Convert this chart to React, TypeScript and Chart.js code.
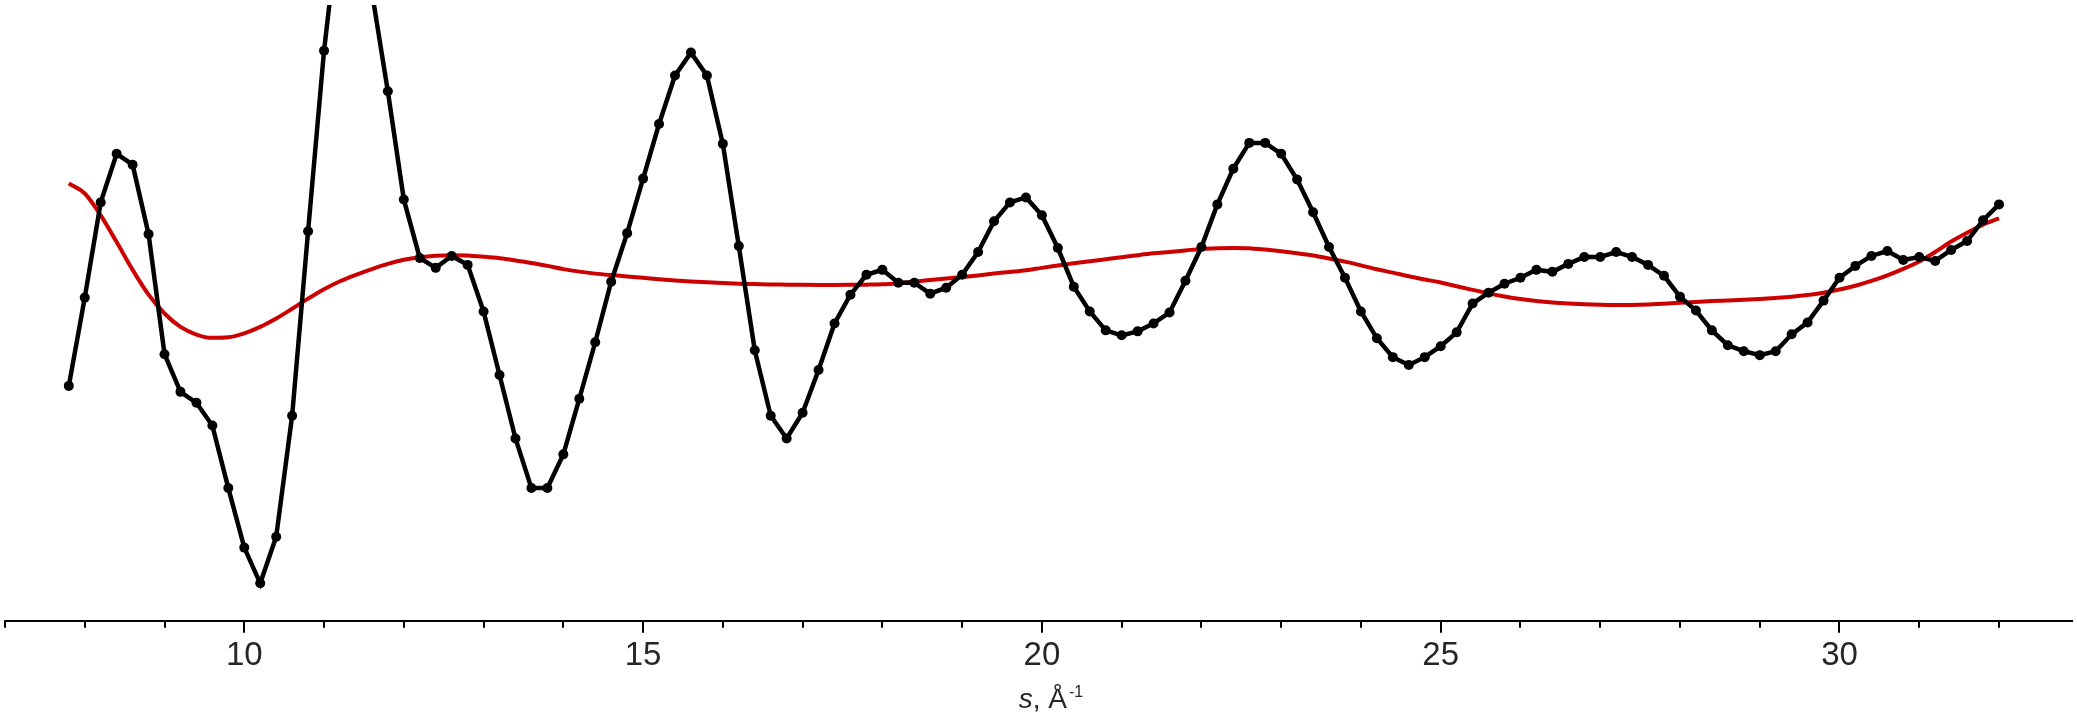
import React, { useEffect, useRef } from "react";
import { Chart, registerables } from "chart.js";

Chart.register(...registerables);

// Scattering data sampled on s = 7.8 ... 32.0 (step 0.2 Å⁻¹)
const S_FIRST = 7.8;
const S_STEP = 0.2;

// experimental curve (black, with points)
const EXPERIMENT = [
  -0.84, 0.05, 1.01, 1.5, 1.39, 0.69, -0.52, -0.9, -1.01, -1.24,
  -1.87, -2.47, -2.83, -2.36, -1.14, 0.72, 2.54, 3.93, 4.25, 3.13,
  2.13, 1.04, 0.45, 0.35, 0.47, 0.38, -0.09, -0.73, -1.37, -1.87,
  -1.87, -1.53, -0.97, -0.4, 0.21, 0.7, 1.25, 1.8, 2.29, 2.52,
  2.29, 1.6, 0.57, -0.48, -1.14, -1.37, -1.11, -0.68, -0.21, 0.08,
  0.28, 0.33, 0.2, 0.2, 0.09, 0.15, 0.28, 0.51, 0.82, 1.01,
  1.06, 0.88, 0.55, 0.16, -0.09, -0.28, -0.33, -0.29, -0.21, -0.1,
  0.22, 0.56, 0.99, 1.35, 1.61, 1.61, 1.5, 1.24, 0.91, 0.56,
  0.25, -0.09, -0.36, -0.55, -0.63, -0.55, -0.44, -0.3, -0.01, 0.1,
  0.19, 0.25, 0.33, 0.31, 0.39, 0.46, 0.46, 0.51, 0.46, 0.38,
  0.27, 0.06, -0.08, -0.28, -0.43, -0.49, -0.53, -0.49, -0.32, -0.2,
  0.02, 0.25, 0.37, 0.47, 0.52, 0.43, 0.46, 0.42, 0.53, 0.62,
  0.83, 0.99,
];

// background / model curve (red, smooth)
const MODEL = [
  1.2, 1.1, 0.88, 0.61, 0.33, 0.08, -0.11, -0.245, -0.322, -0.355,
  -0.35, -0.31, -0.245, -0.16, -0.062, 0.04, 0.135, 0.215, 0.28, 0.338,
  0.39, 0.431, 0.457, 0.472, 0.478, 0.474, 0.462, 0.447, 0.425, 0.4,
  0.37, 0.337, 0.312, 0.292, 0.277, 0.264, 0.25, 0.235, 0.222, 0.212,
  0.204, 0.197, 0.191, 0.187, 0.183, 0.181, 0.179, 0.178, 0.178, 0.179,
  0.181, 0.185, 0.196, 0.211, 0.227, 0.243, 0.258, 0.274, 0.293, 0.309,
  0.326, 0.35, 0.373, 0.396, 0.417, 0.437, 0.457, 0.478, 0.497, 0.511,
  0.526, 0.541, 0.548, 0.551, 0.548, 0.534, 0.517, 0.497, 0.474, 0.445,
  0.413, 0.375, 0.336, 0.302, 0.265, 0.233, 0.202, 0.165, 0.128, 0.093,
  0.062, 0.036, 0.016, 0.001, -0.01, -0.018, -0.023, -0.025, -0.024, -0.019,
  -0.011, -0.002, 0.007, 0.015, 0.022, 0.029, 0.037, 0.047, 0.059, 0.076,
  0.1, 0.132, 0.17, 0.218, 0.275, 0.34, 0.415, 0.51, 0.615, 0.705,
  0.785, 0.848,
];

const S_VALUES = EXPERIMENT.map((_, i) => +(S_FIRST + S_STEP * i).toFixed(1));

const TICK_VALUES = [7, 8, 9, 10, 11, 12, 13, 14, 15, 16, 17, 18, 19, 20, 21, 22, 23, 24, 25, 26, 27, 28, 29, 30, 31, 32];
const MAJOR_TICKS = [10, 15, 20, 25, 30];

const X_MIN = 7;
const X_MAX = 32.915;
const Y_MIN = -3.207;
const Y_MAX = 3.0;

const FONT = "'Liberation Sans', Arial, sans-serif";
const TEXT_COLOR = "#262626";

const axisDecor = {
  id: "axisDecor",
  afterDraw(chart: any) {
    const { ctx, chartArea, scales } = chart;
    const x = scales.x;
    ctx.save();
    ctx.strokeStyle = "#000";
    ctx.lineWidth = 2;
    for (const t of TICK_VALUES) {
      const px = Math.round(x.getPixelForValue(t));
      const len = MAJOR_TICKS.includes(t) ? 12 : 7;
      ctx.beginPath();
      ctx.moveTo(px, chartArea.bottom);
      ctx.lineTo(px, chartArea.bottom + len);
      ctx.stroke();
    }
    // axis title: italic s, then ", Å" and superscript -1
    const baseY = 708;
    const partS = "s";
    const partMid = ", Å";
    const partSup = "-1";
    ctx.fillStyle = TEXT_COLOR;
    ctx.textBaseline = "alphabetic";
    ctx.textAlign = "left";
    ctx.font = `italic 28px ${FONT}`;
    const wS = ctx.measureText(partS).width;
    ctx.font = `28px ${FONT}`;
    const wMid = ctx.measureText(partMid).width;
    ctx.font = `16px ${FONT}`;
    const wSup = ctx.measureText(partSup).width;
    const total = wS + wMid + 2 + wSup;
    let cx = x.getPixelForValue(20) + 9 - total / 2;
    ctx.font = `italic 28px ${FONT}`;
    ctx.fillText(partS, cx, baseY);
    cx += wS;
    ctx.font = `28px ${FONT}`;
    ctx.fillText(partMid, cx, baseY);
    cx += wMid + 2;
    ctx.font = `16px ${FONT}`;
    ctx.fillText(partSup, cx, baseY - 11);
    ctx.restore();
  },
};

export default function App() {
  const canvasRef = useRef<HTMLCanvasElement | null>(null);

  useEffect(() => {
    document.body.style.margin = "0";
    const canvas = canvasRef.current;
    if (!canvas) return;
    const chart = new Chart(canvas, {
      type: "line",
      data: {
        datasets: [
          {
            label: "model",
            data: S_VALUES.map((s, i) => ({ x: s, y: MODEL[i] })),
            borderColor: "#cc0000",
            borderWidth: 4,
            pointRadius: 0,
            cubicInterpolationMode: "monotone",
            order: 2,
          },
          {
            label: "experiment",
            data: S_VALUES.map((s, i) => ({ x: s, y: EXPERIMENT[i] })),
            borderColor: "#000000",
            backgroundColor: "#000000",
            borderWidth: 4.5,
            pointRadius: 5,
            pointBackgroundColor: "#000000",
            pointBorderColor: "#000000",
            pointBorderWidth: 0,
            tension: 0,
            order: 1,
          },
        ],
      },
      options: {
        responsive: false,
        animation: false,
        devicePixelRatio: 1,
        layout: { padding: { left: 2, right: 0, top: 0, bottom: 0 } },
        plugins: {
          legend: { display: false },
          tooltip: { enabled: false },
          title: { display: false },
        },
        scales: {
          x: {
            type: "linear",
            min: X_MIN,
            max: X_MAX,
            grid: {
              display: true,
              drawOnChartArea: false,
              drawTicks: true,
              tickLength: 15,
              tickColor: "rgba(0,0,0,0)",
            },
            border: { display: true, color: "#000", width: 2 },
            ticks: {
              stepSize: 1,
              autoSkip: false,
              maxRotation: 0,
              includeBounds: false,
              padding: 0,
              color: TEXT_COLOR,
              font: { family: FONT, size: 33 },
              callback: (v: any) => (MAJOR_TICKS.includes(Number(v)) ? String(v) : ""),
            },
            afterFit: (scale: any) => {
              scale.height = 94.3;
            },
          },
          y: {
            type: "linear",
            display: false,
            min: Y_MIN,
            max: Y_MAX,
          },
        },
      },
      plugins: [axisDecor],
    });
    return () => chart.destroy();
  }, []);

  return (
    <div style={{ position: "fixed", left: 0, top: 0, width: 2077, height: 715, background: "#fff" }}>
      <canvas ref={canvasRef} width={2077} height={715} />
    </div>
  );
}
